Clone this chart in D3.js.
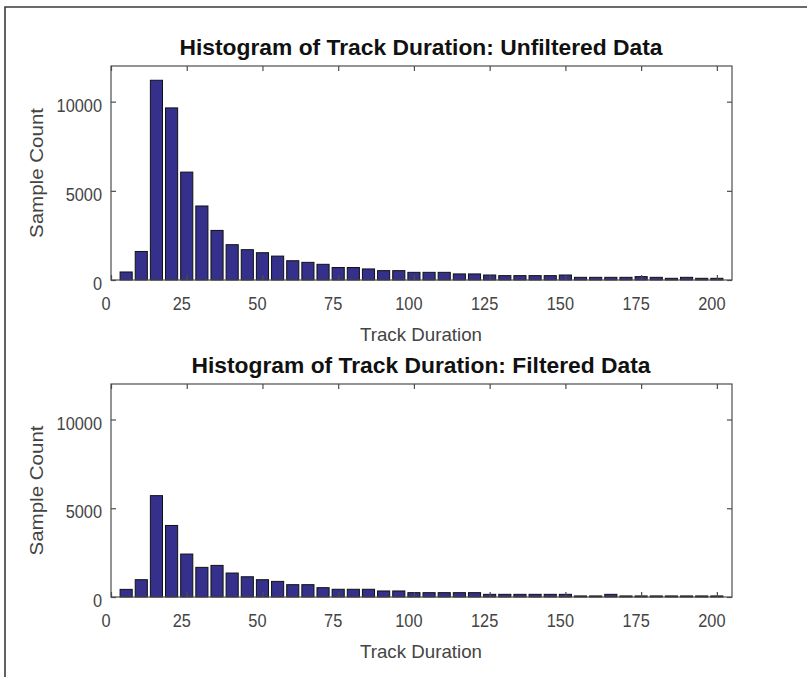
<!DOCTYPE html>
<html>
<head>
<meta charset="utf-8">
<script src="https://cdn.jsdelivr.net/npm/d3@7"></script>
<style>
  html, body { margin: 0; padding: 0; background: #fff; }
  svg { display: block; }
</style>
</head>
<body>
<svg id="fig" width="807" height="677"></svg>
<script>
// Bin centres (track duration, bin width 5)
const binCenters = d3.range(5, 201, 5);

// Sample counts per bin
const unfilteredCounts = [450, 1600, 11200, 9650, 6050, 4150, 2780, 1980, 1700, 1530,
  1340, 1080, 990, 880, 700, 700, 620, 525, 525, 430,
  430, 430, 340, 340, 280, 245, 245, 245, 245, 280,
  150, 150, 150, 150, 190, 150, 95, 150, 95, 95];

const filteredCounts = [430, 975, 5710, 4030, 2420, 1670, 1780, 1350, 1140, 975,
  880, 695, 695, 525, 435, 435, 435, 340, 340, 245,
  245, 245, 245, 245, 150, 150, 150, 150, 150, 150,
  60, 60, 150, 60, 60, 60, 60, 60, 60, 60];

const xTicks = [0, 25, 50, 75, 100, 125, 150, 175, 200];
const yTicks = [0, 5000, 10000];
const titles = ["Histogram of Track Duration: Unfiltered Data",
                "Histogram of Track Duration: Filtered Data"];
const xLabel = "Track Duration";
const yLabel = "Sample Count";

const svg = d3.select("#fig");
const font = "'Liberation Sans', Arial, Helvetica, sans-serif";
const axisColor = "#4d4d4d";
const textColor = "#444";
const barFill = "#34308b";

// narrow the glyphs of a text selection to a fraction of their natural width
function condense(sel, k) {
  sel.each(function () {
    const w = this.getComputedTextLength();
    d3.select(this).attr("textLength", w * k).attr("lengthAdjust", "spacingAndGlyphs");
  });
}

// Outer frame of the figure
svg.append("path")
  .attr("d", "M5,677 V7 H807")
  .attr("fill", "none")
  .attr("stroke", "#3a3a3a")
  .attr("stroke-width", 1.6);

const panels = [
  { counts: unfilteredCounts, title: titles[0], top: 66, bottom: 280, titleW: 483 },
  { counts: filteredCounts, title: titles[1], top: 384, bottom: 597, titleW: 459 }
];

const left = 111, right = 732;
const x = d3.scaleLinear().domain([0, 205]).range([left, right]);
const binWidth = 5 * 0.8;

panels.forEach(p => {
  const y = d3.scaleLinear().domain([0, 12000]).range([p.bottom, p.top]);
  const g = svg.append("g");

  // bars
  g.selectAll("rect.bar")
    .data(binCenters.map((c, i) => ({ c, v: p.counts[i] })))
    .join("rect")
    .attr("class", "bar")
    .attr("x", d => x(d.c - binWidth / 2))
    .attr("width", d => x(d.c + binWidth / 2) - x(d.c - binWidth / 2))
    .attr("y", d => y(d.v))
    .attr("height", d => y(0) - y(d.v))
    .attr("fill", barFill)
    .attr("stroke", "#111")
    .attr("stroke-width", 1);

  // axes with inward ticks on all four sides
  const tickLen = 5;
  g.append("g").attr("transform", `translate(0,${p.bottom})`)
    .call(d3.axisBottom(x).tickValues(xTicks).tickSize(-tickLen).tickFormat(""))
    .call(a => a.select(".domain").remove());
  g.append("g").attr("transform", `translate(0,${p.top})`)
    .call(d3.axisTop(x).tickValues(xTicks).tickSize(-tickLen).tickFormat(""))
    .call(a => a.select(".domain").remove());
  g.append("g").attr("transform", `translate(${left},0)`)
    .call(d3.axisLeft(y).tickValues(yTicks).tickSize(-tickLen).tickFormat(""))
    .call(a => a.select(".domain").remove());
  g.append("g").attr("transform", `translate(${right},0)`)
    .call(d3.axisRight(y).tickValues(yTicks).tickSize(-tickLen).tickFormat(""))
    .call(a => a.select(".domain").remove());
  g.selectAll(".tick line").attr("stroke", axisColor).attr("stroke-width", 1.2);

  // axes box
  g.append("rect")
    .attr("x", left).attr("y", p.top)
    .attr("width", right - left).attr("height", p.bottom - p.top)
    .attr("fill", "none")
    .attr("stroke", axisColor)
    .attr("stroke-width", 1.2);

  // x tick labels
  g.selectAll("text.xt")
    .data(xTicks)
    .join("text")
    .attr("class", "xt")
    .attr("x", d => x(d) - 5)
    .attr("y", p.bottom + 29.5)
    .attr("text-anchor", "middle")
    .attr("font-family", font)
    .attr("font-size", 19)
    .attr("fill", textColor)
    .text(d => d)
    .call(condense, 0.86);

  // y tick labels
  g.selectAll("text.yt")
    .data(yTicks)
    .join("text")
    .attr("class", "yt")
    .attr("x", 102)
    .attr("y", d => y(d) + 10)
    .attr("text-anchor", "end")
    .attr("font-family", font)
    .attr("font-size", 19)
    .attr("fill", textColor)
    .text(d => d)
    .call(condense, 0.86);

  // x label
  g.append("text")
    .attr("x", 421)
    .attr("y", p.bottom + 60.5)
    .attr("text-anchor", "middle")
    .attr("font-family", font)
    .attr("font-size", 19)
    .attr("textLength", 122)
    .attr("lengthAdjust", "spacingAndGlyphs")
    .attr("fill", textColor)
    .text(xLabel);

  // y label
  const midY = (p.top + p.bottom) / 2;
  g.append("text")
    .attr("transform", `translate(43,${midY}) rotate(-90)`)
    .attr("text-anchor", "middle")
    .attr("font-family", font)
    .attr("font-size", 19)
    .attr("textLength", 130)
    .attr("lengthAdjust", "spacingAndGlyphs")
    .attr("fill", textColor)
    .text(yLabel);

  // title
  g.append("text")
    .attr("x", 421)
    .attr("y", p.top - 11)
    .attr("text-anchor", "middle")
    .attr("font-family", font)
    .attr("font-weight", "bold")
    .attr("font-size", 22)
    .attr("textLength", p.titleW)
    .attr("lengthAdjust", "spacingAndGlyphs")
    .attr("fill", "#111")
    .text(p.title);
});
</script>
</body>
</html>
